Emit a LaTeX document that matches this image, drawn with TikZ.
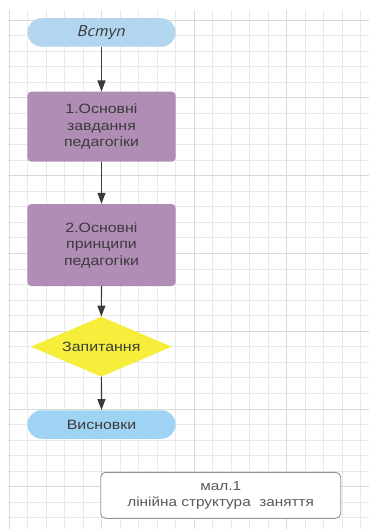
\documentclass[tikz,border=0pt]{standalone}
\usepackage{fontspec}
\setmainfont{Liberation Sans}[FakeStretch=1.18]
\newfontfamily\cursfont{PT Sans}[FakeStretch=1.15]
\usepackage{tikz}
\usetikzlibrary{arrows.meta}
\usetikzlibrary{shapes.geometric}

\definecolor{gridminor}{HTML}{E9E9E9}
\definecolor{gridmajor}{HTML}{D9D9D9}
\definecolor{startblue}{HTML}{B3D6F0}
\definecolor{endblue}{HTML}{9FD3F3}
\definecolor{stepviolet}{HTML}{B08DB5}
\definecolor{askyellow}{HTML}{F6EE3B}
\definecolor{inkgray}{HTML}{3B3B3B}

\begin{document}
\begin{tikzpicture}[x=1pt, y=-1pt,
  lbl/.style={text=inkgray, font=\fontsize{13.5}{16.5}\selectfont, align=center},
  terminal/.style={lbl, rectangle, rounded corners=14pt, minimum width=148pt, minimum height=28.5pt, inner sep=0pt},
  stepbox/.style={lbl, rectangle, rounded corners=4pt, fill=stepviolet, minimum width=148.4pt, inner sep=0pt},
  askbox/.style={lbl, diamond, shape aspect=2.35, fill=askyellow, minimum width=141pt, minimum height=60pt, inner sep=0pt},
  capbox/.style={rectangle, rounded corners=5pt, draw=gray!85, line width=0.9pt, fill=white, text=black!65, font=\fontsize{13}{16}\selectfont, align=center, minimum width=240pt, minimum height=46pt},
  flow/.style={inkgray, line width=1.2pt, -{Triangle[length=11pt,width=8pt]}}]
\useasboundingbox (0,0) rectangle (369,529);
\fill[white] (0,0) rectangle (369,529);
% grid
\foreach \k in {0,...,19} {
  \draw[gridminor, line width=1pt] ({9.5+18.48*\k},10)--++(0,519);
}
\foreach \k in {1,...,33} {
  \draw[gridminor, line width=1pt] (8,{4.5+15.56*\k})--(369,{4.5+15.56*\k});
}
\foreach \k in {0,...,3} {
  \draw[gridmajor, line width=1pt] ({9.5+92.4*\k},10)--++(0,519);
}
\foreach \k in {0,...,6} {
  \draw[gridmajor, line width=1pt] (8,{20.1+77.8*\k})--(369,{20.1+77.8*\k});
}
% blocks
\node[terminal, fill=startblue] (vstup) at (101.5,32.5) {\cursfont\fontsize{15.5}{18}\selectfont\itshape Вступ};
\node[stepbox, minimum height=70pt] (zavd) at (101.5,126.7) {1.Основні\\завдання\\педагогіки};
\node[stepbox, minimum height=82pt] (pryntsyp) at (101.5,245) {2.Основні\\принципи\\педагогіки};
\node[askbox] (zapyt) at (101.3,346.7) {Запитання};
\node[terminal, fill=endblue] (vysn) at (101.5,424.5) {Висновки};
\node[capbox] (caption) at (220.7,495.3) {мал.1\\лінійна структура\ \ заняття};
% arrows
\draw[flow] (vstup) -- (zavd);
\draw[flow] (zavd) -- (pryntsyp);
\draw[flow] (pryntsyp) -- (zapyt);
\draw[flow] (zapyt) -- (vysn);
\end{tikzpicture}
\end{document}
